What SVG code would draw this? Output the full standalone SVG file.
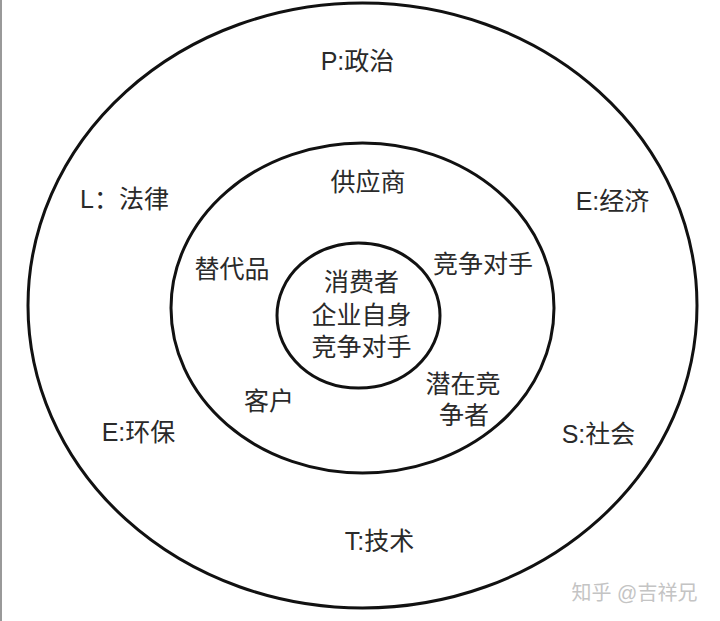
<svg xmlns="http://www.w3.org/2000/svg" width="720" height="621" viewBox="0 0 720 621">
<style>
.ring{fill:none;stroke:#111;stroke-width:3}
.t{font-family:"Liberation Sans","Noto Sans CJK SC",sans-serif;font-size:25px;fill:#2a2a2a;text-anchor:middle}
.wm{font-family:"Liberation Sans","Noto Sans CJK SC",sans-serif;font-size:20px;fill:#c4c4c4;text-anchor:middle}
</style>
<rect x="0" y="0" width="720" height="621" fill="#fff"/>
<line x1="1" y1="0" x2="1" y2="621" stroke="#999" stroke-width="2"/>
<g id="outer">
<ellipse class="ring" cx="362.5" cy="305.5" rx="334.5" ry="302.5"/>
<text class="t" x="357.5" y="70">P:政治</text>
<text class="t" x="124.5" y="208">L：法律</text>
<text class="t" x="612.5" y="210">E:经济</text>
<text class="t" x="138.5" y="441">E:环保</text>
<text class="t" x="598.5" y="443">S:社会</text>
<text class="t" x="379.5" y="550">T:技术</text>
</g>
<g id="middle">
<ellipse class="ring" cx="362.5" cy="308" rx="191.5" ry="165"/>
<text class="t" x="368" y="191">供应商</text>
<text class="t" x="232" y="278">替代品</text>
<text class="t" x="483" y="273">竞争对手</text>
<text class="t" x="269" y="410">客户</text>
<text class="t" x="463" y="393">潜在竞</text>
<text class="t" x="464" y="424">争者</text>
</g>
<g id="inner">
<ellipse class="ring" cx="358.5" cy="315.5" rx="81.5" ry="72.5"/>
<text class="t" x="361.5" y="291">消费者</text>
<text class="t" x="361.5" y="324">企业自身</text>
<text class="t" x="361.5" y="356">竞争对手</text>
</g>
<g id="connectors"></g>
<text class="wm" x="634.5" y="600">知乎 @吉祥兄</text>
</svg>
